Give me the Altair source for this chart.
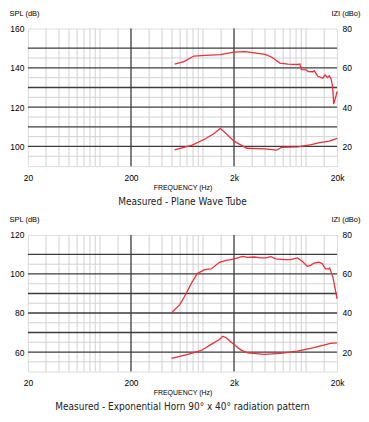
import altair as alt
import pandas as pd

FONT = "'Liberation Sans Narrow', 'DejaVu Sans Condensed', 'Roboto Condensed', 'Liberation Sans', sans-serif"
RED = "#ec2f3b"
DARK = "#3c3c3c"
LIGHT = "#d2d2d2"

# ---- Top chart: Plane Wave Tube ----
top_spl_freq = [531, 653, 815, 1057, 1472, 2000, 2564, 3990, 4620, 5570, 6700, 8360, 8700,
                9000, 10030, 10500, 11640, 12000, 13010, 14520, 15300, 16100, 16870, 17500,
                18150, 18540, 19540, 20000]
top_spl_db = [141.9, 143.2, 146.0, 146.3, 146.7, 148.0, 148.2, 146.8, 145.5, 142.4, 141.9, 141.7,
              141.9, 139.1, 139.0, 138.1, 138.0, 138.5, 135.7, 134.7, 136.4, 135.0, 136.0, 134.4,
              130.1, 121.5, 125.8, 128.0]
top_imp_freq = [531, 785, 1057, 1270, 1472, 1770, 2000, 2655, 3990, 5170, 5770, 8360, 11220,
                13500, 16870, 20000]
top_imp_dbo = [18.3, 20.7, 23.9, 26.5, 29.2, 25.3, 22.7, 19.1, 18.8, 18.1, 19.5, 19.8, 20.9,
               21.9, 22.7, 24.1]

# ---- Bottom chart: Exponential Horn ----
bot_spl_freq = [493, 594, 664, 769, 879, 1035, 1200, 1445, 1675, 1870, 2168, 2426, 2710, 3140,
                3640, 4070, 4550, 5080, 6120, 7100, 8220, 9190, 10280, 11070, 11920, 13310,
                14330, 15430, 16630, 16960, 18290, 20000]
bot_spl_db = [80.0, 84.3, 88.6, 95.1, 100.2, 102.2, 102.6, 106.0, 107.0, 107.3, 108.2, 109.0,
              108.5, 108.7, 108.2, 108.2, 108.9, 107.7, 107.3, 107.3, 108.2, 106.5, 103.9, 104.4,
              105.6, 106.0, 105.3, 102.6, 102.6, 103.1, 98.0, 87.2]
bot_imp_freq = [493, 714, 962, 1200, 1445, 1556, 1675, 1870, 2000, 2340, 2710, 3930, 5680,
                8220, 11920, 17260, 20000]
bot_imp_dbo = [16.7, 18.8, 20.8, 23.9, 26.4, 28.1, 27.3, 25.1, 23.9, 21.0, 19.6, 18.8, 19.3,
               20.5, 22.2, 24.4, 24.7]

# ---- Grid ----
minor_freqs = [30, 40, 50, 60, 70, 80, 90, 100, 150,
               300, 400, 500, 600, 700, 800, 900, 1000, 1500,
               3000, 4000, 5000, 6000, 7000, 8000, 9000, 10000, 15000]
major_freqs = [200, 2000]
x_tick_values = [20, 200, 2000, 20000]

top_major_levels = [150, 140, 130, 120, 110, 100]
top_minor_levels = [145, 135, 125, 115, 105, 95]
bot_major_levels = [110, 100, 90, 80, 70, 60]
bot_minor_levels = [105, 95, 85, 75, 65, 55]

W = 310


def panel(spl_f, spl_v, imp_f, imp_v, left_dom, left_vals, major_lv, minor_lv, title, h):
    xs = alt.Scale(type="log", domain=[20, 20000], nice=False)
    ys = alt.Scale(domain=left_dom, nice=False, zero=False)
    yr = alt.Scale(domain=[10, 80], nice=False, zero=False)

    xaxis = alt.Axis(values=x_tick_values,
                     labelExpr="datum.value >= 1000 ? (datum.value/1000) + 'k' : datum.value",
                     ticks=False, domain=False, grid=False, labelFontSize=8.5, labelPadding=7,
                     title="FREQUENCY (Hz)", titleFontSize=7, titleFontWeight="normal",
                     titlePadding=1.5, labelFlush=False)
    laxis = alt.Axis(values=left_vals, ticks=False, domain=False, grid=False,
                     labelFontSize=8.5, labelPadding=4,
                     title="SPL (dB)", titleAngle=0, titleAlign="left",
                     titleBaseline="alphabetic", titleX=-19, titleY=-13,
                     titleFontSize=7.5, titleFontWeight="normal")
    raxis = alt.Axis(orient="right", values=[20, 40, 60, 80], ticks=False,
                     domain=False, grid=False, labelFontSize=8.5, labelPadding=5,
                     title="IZI (dBo)", titleAngle=0, titleAlign="right",
                     titleBaseline="alphabetic", titleX=23, titleY=-13,
                     titleFontSize=7.5, titleFontWeight="normal")

    vminor = alt.Chart(pd.DataFrame({"f": minor_freqs})).mark_rule(
        color=LIGHT, strokeWidth=1).encode(x=alt.X("f:Q", scale=xs, axis=xaxis))
    vmajor = alt.Chart(pd.DataFrame({"f": major_freqs})).mark_rule(
        color=DARK, strokeWidth=1.3).encode(x=alt.X("f:Q", scale=xs, axis=xaxis))
    hminor = alt.Chart(pd.DataFrame({"v": minor_lv})).mark_rule(
        color=LIGHT, strokeWidth=1).encode(y=alt.Y("v:Q", scale=ys, axis=laxis))
    hmajor = alt.Chart(pd.DataFrame({"v": major_lv})).mark_rule(
        color=DARK, strokeWidth=1.3).encode(y=alt.Y("v:Q", scale=ys, axis=laxis))

    spl = alt.Chart(pd.DataFrame({"f": spl_f, "v": spl_v})).mark_line(
        color=RED, strokeWidth=1.3).encode(
        x=alt.X("f:Q", scale=xs, axis=xaxis),
        y=alt.Y("v:Q", scale=ys, axis=laxis),
        order="f:Q")

    imp = alt.Chart(pd.DataFrame({"f": imp_f, "v": imp_v})).mark_line(
        color=RED, strokeWidth=1.3).encode(
        x=alt.X("f:Q", scale=xs, axis=xaxis),
        y=alt.Y("v:Q", scale=yr, axis=raxis),
        order="f:Q")

    left = alt.layer(vminor, hminor, vmajor, hmajor, spl)
    return alt.layer(left, imp).resolve_scale(y="independent").properties(
        width=W, height=h,
        title=alt.Title(title, orient="bottom", fontSize=10, fontWeight="normal",
                        font=FONT, offset=6.5, color="#222"))


top = panel(top_spl_freq, top_spl_db, top_imp_freq, top_imp_dbo, [90, 160],
            [100, 120, 140, 160], top_major_levels, top_minor_levels,
            "Measured - Plane Wave Tube", 138)
bot = panel(bot_spl_freq, bot_spl_db, bot_imp_freq, bot_imp_dbo, [50, 120],
            [60, 80, 100, 120], bot_major_levels, bot_minor_levels,
            "Measured - Exponential Horn 90° x 40° radiation pattern", 137)

chart = alt.vconcat(top, bot, spacing=8).properties(
    padding={"left": 0, "top": 0, "right": 0, "bottom": 0}
).configure_view(stroke=DARK, strokeWidth=1.3).configure_axis(
    labelFont=FONT, titleFont=FONT, labelColor="#222", titleColor="#222"
).configure_title(font=FONT).configure(background="white")

chart.save("out.html", embed_options={"renderer": "svg", "actions": False})
